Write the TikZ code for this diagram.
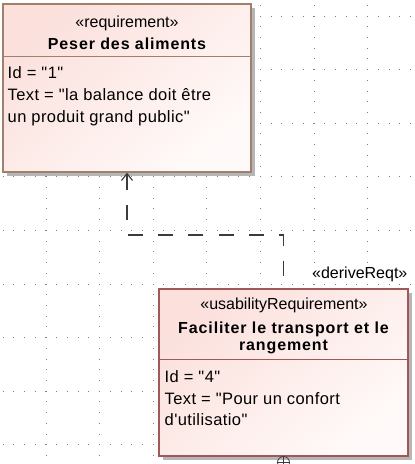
\documentclass[tikz,border=0pt]{standalone}
\usepackage{fontspec}
\setmainfont{Liberation Sans}
\newfontfamily\bodyf[LetterSpace=2.5]{Liberation Sans}
\newfontfamily\titlef[LetterSpace=5.5]{Liberation Sans}
\usetikzlibrary{arrows.meta,shadows}
\definecolor{brdA}{RGB}{160,128,108}
\definecolor{brdB}{RGB}{160,88,88}
\definecolor{pinkA}{RGB}{251,224,220}
\definecolor{paleA}{RGB}{255,250,249}
\definecolor{gridc}{RGB}{125,125,125}
\definecolor{shad}{RGB}{182,182,182}
\definecolor{linec}{RGB}{60,60,60}
\tikzset{
  reqbox/.style={draw=#1, line width=1.3pt, inner sep=0pt, shading=axis,
    top color=pinkA, bottom color=paleA, shading angle=40,
    drop shadow={shadow xshift=4pt, shadow yshift=-4pt, fill=shad, opacity=1}},
  stereo/.style={anchor=base, inner sep=0pt, font=\fontsize{16}{19}\selectfont},
  titletxt/.style={anchor=base, inner sep=0pt, font=\titlef\bfseries\fontsize{16}{19}\selectfont},
  bodytxt/.style={anchor=base west, inner sep=0pt, font=\bodyf\fontsize{16.5}{20}\selectfont},
  conn/.style={draw=linec, line width=1.1pt, dash pattern=on 15pt off 15.3pt, dash phase=18pt},
  gdot/.style={fill=gridc}
}
\begin{document}
\begin{tikzpicture}[x=1pt,y=-1pt]
\useasboundingbox (0,0) rectangle (415,464);
\clip (0,0) rectangle (415,464);
\fill[white] (0,0) rectangle (415,464);
% dotted grid
\foreach \k in {0,...,8}{
  \foreach \j in {0,...,38}{
    \fill[gdot] ({3.1+10.72*\j-0.5},{16+53.6*\k-0.5}) rectangle ++(1,1);
  }
}
\foreach \k in {0,...,7}{
  \foreach \j in {0,...,43}{
    \fill[gdot] ({46+53.6*\k-0.5},{5.3+10.72*\j-0.5}) rectangle ++(1,1);
  }
}
% box 1
\node[reqbox=brdA, minimum width=248pt, minimum height=168pt] (b1) at (127,88) {};
\draw[brdA, line width=1pt] (b1.west |- 0,56) -- (b1.east |- 0,56);
\node[stereo] (s1) at (127,27) {«requirement»};
\node[titletxt] (t1) at (127,49) {Peser des aliments};
\node[bodytxt] (p1a) at (7.5,78) {Id = "1"};
\node[bodytxt] (p1b) at (7.5,100) {Text = "la balance doit être};
\node[bodytxt] (p1c) at (7.5,122) {un produit grand public"};
% box 2
\node[reqbox=brdB, minimum width=249pt, minimum height=167pt] (b2) at (283.5,372.5) {};
\draw[brdB, line width=1pt] (b2.west |- 0,359) -- (b2.east |- 0,359);
\node[stereo] (s2) at (284,309) {«usabilityRequirement»};
\node[titletxt] (t2a) at (283.5,333) {Faciliter le transport et le};
\node[titletxt] (t2b) at (283.5,350) {rangement};
\node[bodytxt] (p2a) at (164.5,382) {Id = "4"};
\node[bodytxt] (p2b) at (164.5,404) {Text = "Pour un confort};
\node[bodytxt] (p2c) at (164.5,425) {d'utilisatio"};
% containment symbol
\node[draw=linec, circle, minimum size=12pt, inner sep=0pt, line width=0.8pt] (cp) at (283.5,462.5) {};
\draw[linec, line width=0.8pt] (cp.north) -- (cp.south) (cp.west) -- (cp.east);
% connector
\draw[conn, -{Straight Barb[length=7pt, width=11pt, line width=1.1pt]}]
  (b2.north) -- (b2.north |- 0,235) -| (b1.south);
\node[anchor=base west, inner sep=0pt, font=\fontsize{16}{19}\selectfont] (lbl) at (312,278) {«deriveReqt»};
\end{tikzpicture}
\end{document}
